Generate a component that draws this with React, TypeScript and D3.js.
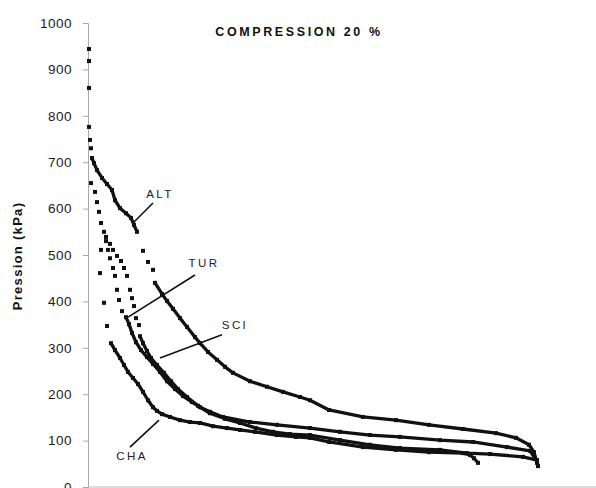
import React, { useEffect, useRef } from "react";
import * as d3 from "d3";

type Pt = [number, number];

// x: temps (unités arbitraires), y: pression (kPa)
const altDots: Pt[] = [[1, 944], [1, 776], [2, 748], [3, 730], [55, 509], [60, 485], [65, 468]];
const altRuns: Pt[][] = [
  [[4, 709], [6, 698], [9, 683], [14, 666], [19, 653], [24, 640], [27, 618], [32, 601], [38, 590], [43, 580], [46, 565], [49, 550]],
  [[67, 440], [74, 416], [79, 401], [85, 384], [92, 364], [99, 345], [107, 323], [112, 310], [120, 291], [129, 274], [137, 259],
   [145, 246], [162, 228], [179, 216], [195, 205], [212, 194], [222, 187], [241, 166], [275, 151], [308, 144], [341, 134],
   [375, 125], [408, 116], [428, 106], [441, 91], [446, 75], [449, 52]],
];

const turDots: Pt[] = [[1, 918], [3, 655], [7, 636], [9, 614], [11, 593], [13, 569], [16, 550], [18, 530], [20, 511], [22, 493],
  [25, 472], [27, 455], [29, 425], [31, 403], [34, 379]];
const turRuns: Pt[][] = [
  [[38, 366], [41, 351], [44, 332], [48, 312], [53, 295], [59, 280], [65, 265], [72, 248], [79, 228], [87, 211], [95, 196],
   [104, 183], [112, 172], [122, 162], [135, 151], [162, 140], [189, 134], [222, 127], [252, 119], [282, 112], [312, 108],
   [352, 101], [385, 97], [419, 86], [442, 78], [447, 62]],
];

const sciDots: Pt[] = [[1, 860], [18, 539], [22, 524], [25, 511], [29, 498], [33, 487], [36, 472], [39, 455], [42, 425],
  [44, 407], [46, 390], [48, 364], [51, 349]];
const sciRuns: Pt[][] = [
  [[52, 325], [55, 310], [59, 293], [63, 278], [69, 263], [76, 246], [83, 228], [90, 211], [99, 194], [110, 175], [122, 159],
   [137, 147], [152, 138], [168, 127], [185, 119], [202, 114], [222, 112], [252, 101], [282, 91], [312, 84], [352, 80],
   [379, 73], [402, 71], [435, 65], [449, 58], [450, 45]],
];

const chaDots: Pt[] = [[13, 511], [12, 461], [16, 397], [19, 347]];
const chaRuns: Pt[][] = [
  [[23, 310], [27, 295], [32, 278], [36, 263], [40, 248], [45, 235], [50, 222], [55, 205], [60, 187], [65, 172], [69, 164],
   [74, 157], [82, 151], [92, 144], [102, 140], [112, 138], [125, 131], [139, 127], [152, 123], [167, 119], [189, 112],
   [208, 108], [222, 106], [241, 97], [275, 86], [308, 80], [341, 75], [375, 73], [382, 69], [386, 62], [390, 52]],
];

const yTicks = [0, 100, 200, 300, 400, 500, 600, 700, 800, 900, 1000];

// étiquettes: texte, position du texte, trait de rappel
const labelNames = ["ALT", "TUR", "SCI", "CHA"];
const labelPos: Pt[] = [[72, 631], [116, 483], [147, 349], [44, 67]];
const leaderFrom: Pt[] = [[65, 612], [107, 457], [134, 328], [42, 86]];
const leaderTo: Pt[] = [[45, 569], [40, 366], [72, 278], [71, 144]];

const App = () => {
  const svgRef = useRef<SVGSVGElement>(null);

  useEffect(() => {
    const width = 596;
    const height = 488;
    const margin = { top: 23, right: 0, bottom: 1, left: 88 };

    const svg = d3.select(svgRef.current);
    svg.selectAll("*").remove();
    svg.attr("width", width).attr("height", height);

    svg.append("rect").attr("width", width).attr("height", height).attr("fill", "#fff");

    const x = d3.scaleLinear().domain([0, 508]).range([margin.left, width - margin.right]);
    const y = d3.scaleLinear().domain([0, 1000]).range([height - margin.bottom, margin.top]);

    const font = "Liberation Sans, Arial, sans-serif";
    const ink = "#111";

    // axe Y
    const yAxis = svg
      .append("g")
      .attr("transform", `translate(${margin.left},0)`)
      .call(d3.axisLeft(y).tickValues(yTicks).tickSize(5).tickPadding(11).tickFormat(d3.format("d")));
    yAxis.select(".domain").attr("stroke", "#a8a8a8");
    yAxis.selectAll(".tick line").attr("stroke", "#a8a8a8");
    yAxis
      .selectAll("text")
      .attr("fill", "#1c1c1c")
      .style("font-family", font)
      .style("font-size", "13.5px")
      .style("letter-spacing", "0.5px");

    // axe X
    svg
      .append("line")
      .attr("x1", margin.left)
      .attr("x2", width)
      .attr("y1", y(0))
      .attr("y2", y(0))
      .attr("stroke", "#bbb");

    // titre
    svg
      .append("text")
      .attr("x", 299)
      .attr("y", 36)
      .attr("text-anchor", "middle")
      .style("font-family", font)
      .style("font-weight", "bold")
      .style("font-size", "12.5px")
      .style("letter-spacing", "2.6px")
      .attr("fill", ink)
      .text("COMPRESSION 20 %");

    // titre axe Y
    svg
      .append("text")
      .attr("transform", `translate(22,${256}) rotate(-90)`)
      .attr("text-anchor", "middle")
      .style("font-family", font)
      .style("font-weight", "bold")
      .style("font-size", "13px")
      .style("letter-spacing", "1.3px")
      .attr("fill", ink)
      .text("Pression (kPa)");

    const line = d3
      .line<Pt>()
      .x((d) => x(d[0]))
      .y((d) => y(d[1]));

    const series = [
      { dots: altDots, runs: altRuns },
      { dots: turDots, runs: turRuns },
      { dots: sciDots, runs: sciRuns },
      { dots: chaDots, runs: chaRuns },
    ];

    series.forEach((s) => {
      s.runs.forEach((run) => {
        svg
          .append("path")
          .datum(run)
          .attr("d", line)
          .attr("fill", "none")
          .attr("stroke", ink)
          .attr("stroke-width", 3.3)
          .attr("stroke-linejoin", "round");
      });
      const all = s.dots.concat(...s.runs);
      svg
        .append("g")
        .selectAll("rect")
        .data(all)
        .enter()
        .append("rect")
        .attr("x", (d) => x(d[0]) - 2)
        .attr("y", (d) => y(d[1]) - 2)
        .attr("width", 4)
        .attr("height", 4)
        .attr("fill", ink);
    });

    // étiquettes et traits de rappel
    labelNames.forEach((name, i) => {
      svg
        .append("line")
        .attr("x1", x(leaderFrom[i][0]))
        .attr("y1", y(leaderFrom[i][1]))
        .attr("x2", x(leaderTo[i][0]))
        .attr("y2", y(leaderTo[i][1]))
        .attr("stroke", ink)
        .attr("stroke-width", 1.6);
      svg
        .append("text")
        .attr("x", x(labelPos[i][0]))
        .attr("y", y(labelPos[i][1]))
        .attr("dy", "0.35em")
        .attr("text-anchor", "middle")
        .style("font-family", font)
        .style("font-size", "11.5px")
        .style("letter-spacing", "2.4px")
        .attr("fill", "#222")
        .text(name);
    });
  }, []);

  return <svg ref={svgRef} style={{ position: "fixed", left: 0, top: 0 }} />;
};

export default App;
